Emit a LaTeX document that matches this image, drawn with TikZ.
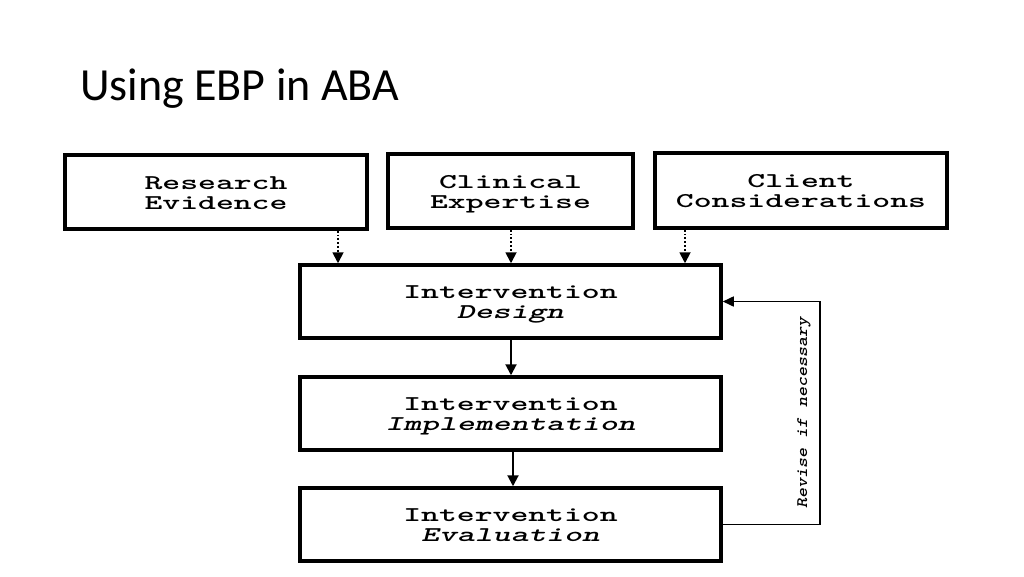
\documentclass[tikz,border=0pt]{standalone}
\usepackage{graphicx}
\usepackage{fontspec}
\setmainfont{Carlito}
\usetikzlibrary{arrows.meta}
\newsavebox\bxtbox
\newcommand\bxt[2]{\sbox\bxtbox{\scalebox{1.62}[1]{\ttfamily\bfseries\fontsize{21}{20}\selectfont\begin{tabular}{@{}c@{}}#1\\#2\end{tabular}}}\raisebox{-3pt}[\ht\bxtbox][\dp\bxtbox]{\usebox\bxtbox}}
\tikzset{
  box/.style={draw=black, line width=3.5pt, fill=white, inner sep=0pt},
  dotarr/.style={line width=1.8pt, dotted, -{Triangle[length=11pt,width=11pt]}},
  solarr/.style={line width=2pt, -{Triangle[length=11pt,width=11pt]}},
  fbline/.style={line width=1.6pt, -{Triangle[length=11pt,width=10pt]}}
}
\begin{document}
\begin{tikzpicture}[x=1pt,y=-1pt]
\useasboundingbox (0,0) rectangle (1024,576);
\node[anchor=base west, font=\fontsize{46}{48}\selectfont, inner sep=0pt] (title) at (80,100) {Using EBP in ABA};

\node[box, minimum width=302pt, minimum height=74pt] (re) at (216,192) {\bxt{Research}{Evidence}};
\node[box, minimum width=245pt, minimum height=74pt] (ce) at (510.5,191) {\bxt{Clinical}{Expertise}};
\node[box, minimum width=292pt, minimum height=75pt] (cc) at (801,190.5) {\bxt{Client}{Considerations}};

\node[box, minimum width=421pt, minimum height=73pt] (des) at (510.5,301.5) {\bxt{Intervention}{\itshape Design}};
\node[box, minimum width=421pt, minimum height=73pt] (imp) at (510.5,413.5) {\bxt{Intervention}{\itshape Implementation}};
\node[box, minimum width=421pt, minimum height=73pt] (eva) at (510.5,524.5) {\bxt{Intervention}{\itshape Evaluation}};

\coordinate (a1) at (338,0);
\coordinate (a2) at (511,0);
\coordinate (a3) at (685,0);
\coordinate (a4) at (513,0);
\coordinate (fbx) at (820,0);

\draw[dotarr] (re.south -| a1) -- (des.north -| a1);
\draw[dotarr] (ce.south -| a2) -- (des.north -| a2);
\draw[dotarr] (cc.south -| a3) -- (des.north -| a3);

\draw[solarr] (des.south -| a2) -- (imp.north -| a2);
\draw[solarr] (imp.south -| a4) -- (eva.north -| a4);

\draw[fbline] (eva.east) -- (eva.east -| fbx) -- (des.east -| fbx) -- (des.east);

\node[rotate=90, inner sep=0pt] (rev) at (804,413) {\scalebox{1.2}[1]{\ttfamily\bfseries\itshape\fontsize{16}{16}\selectfont Revise if necessary}};
\end{tikzpicture}
\end{document}
